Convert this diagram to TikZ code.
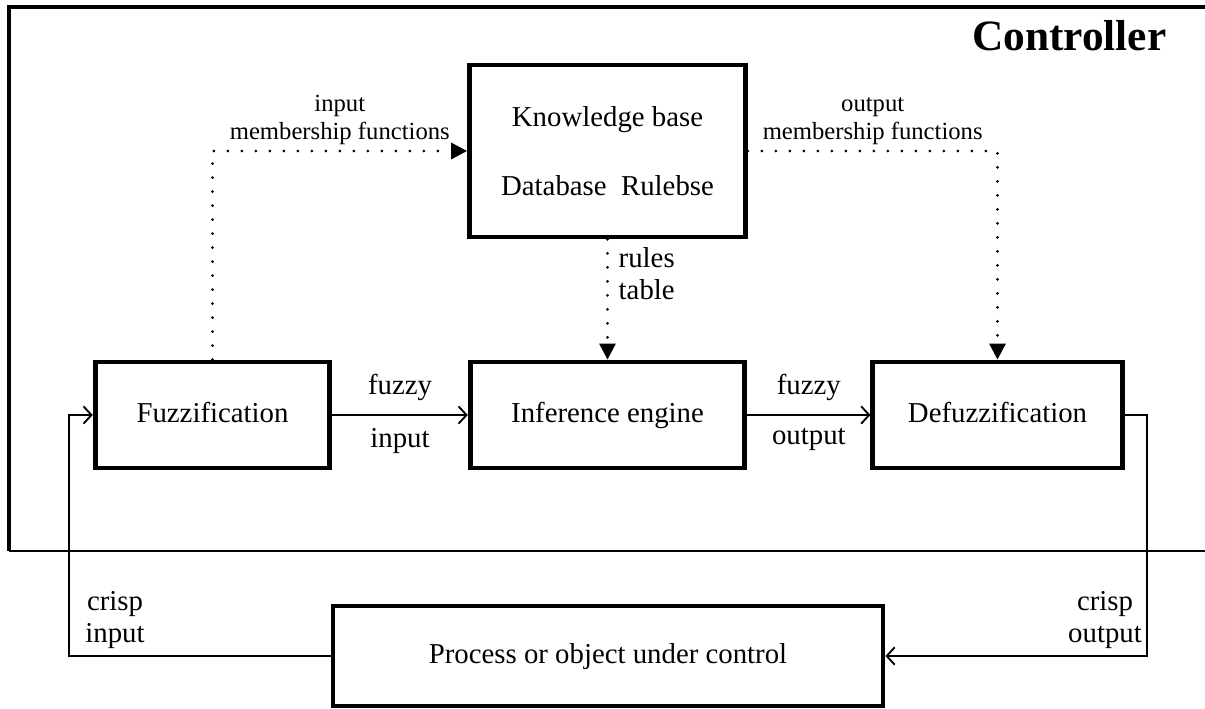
\documentclass[tikz,border=0pt]{standalone}
\usepackage{fontspec}
\setmainfont{Liberation Serif}
\usetikzlibrary{arrows.meta, positioning}

\begin{document}
\begin{tikzpicture}[x=.75pt, y=-.75pt,
    block/.style={draw, line width=3.6pt, minimum height=79.5pt, text height=15pt, text depth=4pt, font=\fontsize{21.6}{26}\selectfont},
    link/.style={line width=1.4pt, -{Straight Barb[length=6pt, width=13pt]}},
    dots/.style={line width=2.3pt, line cap=round, dash pattern=on 0pt off 10.5pt, -{Triangle[length=12pt, width=12pt]}},
    lbl/.style={font=\fontsize{21.6}{24}\selectfont, align=center},
    small/.style={font=\fontsize{18.5}{21}\selectfont, align=center}]
        \useasboundingbox (0,0) rectangle (1205,709);
        % controller frame
        \draw[line width=2.8pt] (1215,7) -- (9,7) -- (9,551);
        \draw[line width=1.4pt] (9,551) -- (1215,551);
        \node[anchor=base east, font=\fontsize{32.5}{36}\bfseries] (ctrl) at (1171,51) {Controller};
        % blocks
        \node[block, minimum width=207pt, minimum height=129pt, text height=, text depth=, font=\fontsize{21.6}{52}\selectfont, align=center] (kb) at (607.5,151) {Knowledge base\\Database\enspace Rulebse};
        \node[block, minimum width=176pt] (fuzz) at (212.5,415) {Fuzzification};
        \node[block, minimum width=206pt] (inf) at (607.5,415) {Inference engine};
        \node[block, minimum width=187pt] (defuzz) at (997.5,415) {Defuzzification};
        \node[block, minimum width=412.5pt, minimum height=75pt] (proc) at (608,656) {Process or object under control};
        \coordinate (cin) at (69,415);
        \coordinate (cout) at (1147,415);
        % signal path
        \draw[link] (fuzz.east) -- node[lbl, above=7pt] (fi1) {fuzzy} node[lbl, below=6pt] (fi2) {input} (inf.west);
        \draw[link] (inf.east) -- node[lbl, above=7pt] (fo1) {fuzzy} node[lbl, below=6pt] (fo2) {output} (defuzz.west);
        \draw[link] (proc.west) -| (cin) -- (fuzz.west);
        \draw[link] (defuzz.east) -- (cout) |- (proc.east);
        \node[lbl] (ci) at (115,620) {crisp\\input};
        \node[lbl] (co) at (1105,620) {crisp\\output};
        % knowledge base links
        \draw[dots] (fuzz.north) |- node[small, above, pos=.75] (imf) {input\\membership functions} (kb.west);
        \draw[dots] (kb.east) -| node[small, above, pos=.25] (omf) {output\\membership functions} (defuzz.north);
        \draw[dots] (kb.south) -- (inf.north);
        \node[lbl, anchor=west, align=left] (rt) at (614,274) {rules\\table};
\end{tikzpicture}
\end{document}
